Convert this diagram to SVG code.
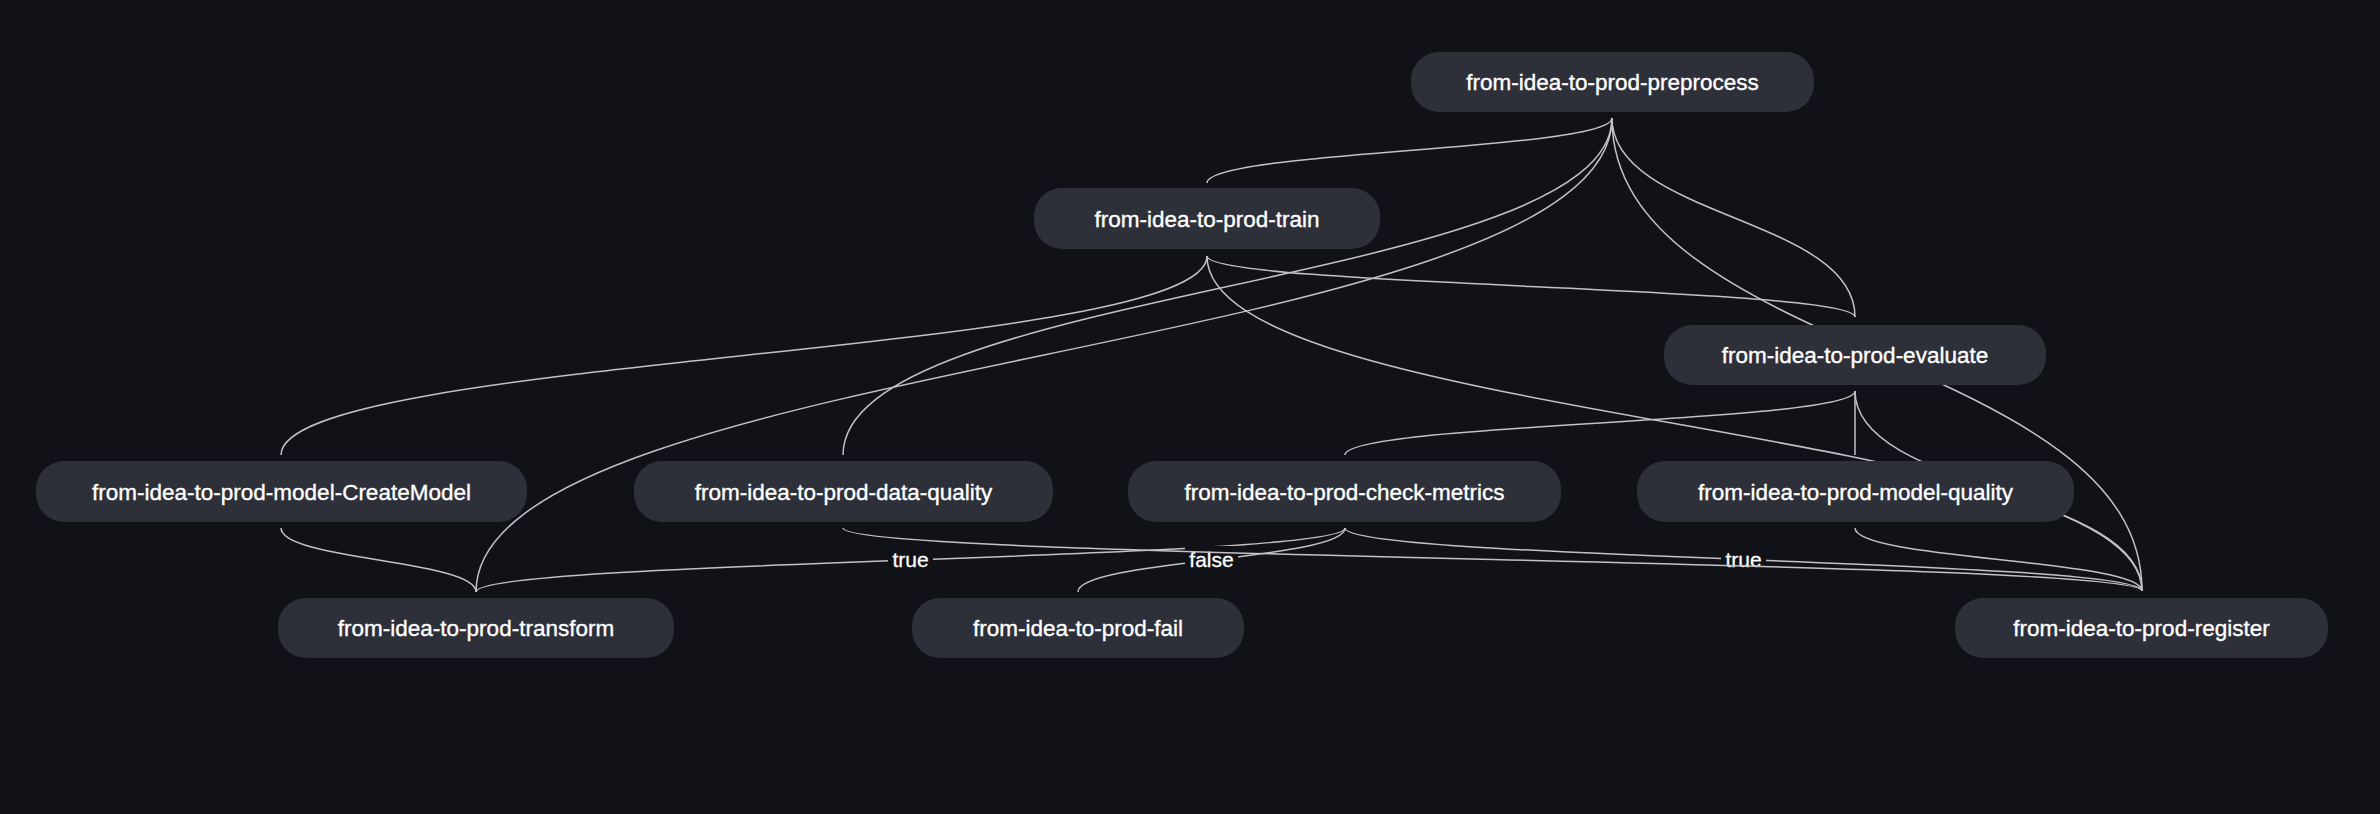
<svg xmlns="http://www.w3.org/2000/svg" width="2380" height="814" viewBox="0 0 2380 814">
<style>
.bg{fill:#111217}
.node rect{fill:#2e3039}
.node text{fill:#ffffff;stroke:#ffffff;stroke-width:0.35;font-family:"Liberation Sans",Arial,sans-serif;font-size:22.5px;text-anchor:middle}
.edge{fill:none;stroke:#c2c2c6;stroke-width:1.5}
.lbl rect{fill:#111217}
.lbl text{fill:#ffffff;stroke:#ffffff;stroke-width:0.3;font-family:"Liberation Sans",Arial,sans-serif;font-size:21px;text-anchor:middle}
</style>
<rect class="bg" x="0" y="0" width="2380" height="814"/>
<g id="connectors">
<path class="edge" d="M1612,118 C1612,150.5 1207,150.5 1207,183"/>
<path class="edge" d="M1612,118 C1612,217.5 1855,217.5 1855,317"/>
<path class="edge" d="M1612,118 C1612,286.5 843,286.5 843,455"/>
<path class="edge" d="M1612,118 C1612,355 476,355 476,592"/>
<path class="edge" d="M1612,118 C1612,354.5 2142,354.5 2142,591"/>
<path class="edge" d="M1207,256 C1207,286.5 1855,286.5 1855,317"/>
<path class="edge" d="M1207,256 C1207,355.5 281,355.5 281,455"/>
<path class="edge" d="M1207,256 C1207,423.5 2142,423.5 2142,591"/>
<path class="edge" d="M1855,391 C1855,423 1345,423 1345,455"/>
<path class="edge" d="M1855,391 L1855,455"/>
<path class="edge" d="M1855,391 C1855,491 2142,491 2142,591"/>
<path class="edge" d="M281,528 C281,560 476,560 476,592"/>
<path class="edge" d="M1345,528 C1345,560 476,560 476,592"/>
<path class="edge" d="M1345,528 C1345,560 1078,560 1078,592"/>
<path class="edge" d="M1345,528 C1345,559.5 2142,559.5 2142,591"/>
<path class="edge" d="M1855,528 C1855,559.5 2142,559.5 2142,591"/>
<g class="lbl"><rect x="888" y="546" width="45" height="28"/><text x="910.5" y="567">true</text></g>
<g class="lbl"><rect x="1185" y="546" width="53" height="28"/><text x="1211.5" y="567">false</text></g>
<g class="lbl"><rect x="1721" y="546" width="45" height="28"/><text x="1743.5" y="567">true</text></g>
<path class="edge" d="M843,528 C843,559.5 2142,559.5 2142,591"/>
</g>
<g id="n-preprocess" class="node"><rect x="1411" y="52" width="403" height="60" rx="28"/><text x="1612.5" y="90">from-idea-to-prod-preprocess</text></g>
<g id="n-train" class="node"><rect x="1034" y="188" width="346" height="61" rx="28"/><text x="1207" y="226.5">from-idea-to-prod-train</text></g>
<g id="n-evaluate" class="node"><rect x="1664" y="325" width="382" height="60" rx="28"/><text x="1855" y="363">from-idea-to-prod-evaluate</text></g>
<g id="n-createmodel" class="node"><rect x="36" y="461" width="491" height="61" rx="28"/><text x="281.5" y="499.5">from-idea-to-prod-model-CreateModel</text></g>
<g id="n-data-quality" class="node"><rect x="634" y="461" width="419" height="61" rx="28"/><text x="843.5" y="499.5">from-idea-to-prod-data-quality</text></g>
<g id="n-check-metrics" class="node"><rect x="1128" y="461" width="433" height="61" rx="28"/><text x="1344.5" y="499.5">from-idea-to-prod-check-metrics</text></g>
<g id="n-model-quality" class="node"><rect x="1637" y="461" width="437" height="61" rx="28"/><text x="1855.5" y="499.5">from-idea-to-prod-model-quality</text></g>
<g id="n-transform" class="node"><rect x="278" y="598" width="396" height="60" rx="28"/><text x="476" y="636">from-idea-to-prod-transform</text></g>
<g id="n-fail" class="node"><rect x="912" y="598" width="332" height="60" rx="28"/><text x="1078" y="636">from-idea-to-prod-fail</text></g>
<g id="n-register" class="node"><rect x="1955" y="598" width="373" height="60" rx="28"/><text x="2141.5" y="636">from-idea-to-prod-register</text></g>
</svg>
